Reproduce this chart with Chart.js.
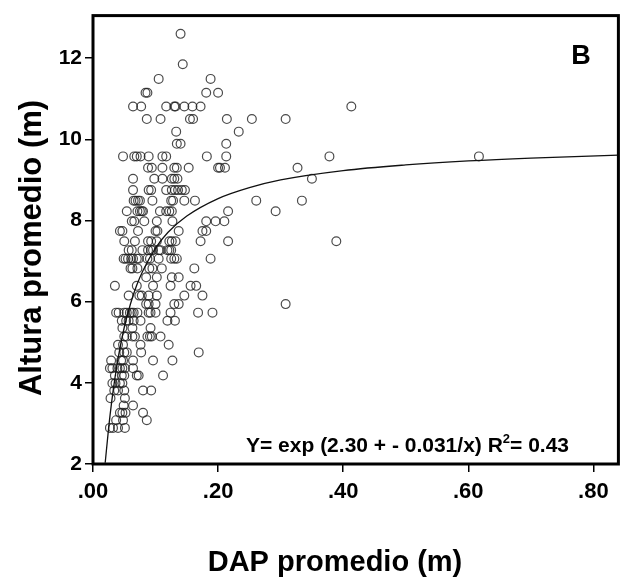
<!DOCTYPE html>
<html>
<head>
<meta charset="utf-8">
<script src="https://cdn.jsdelivr.net/npm/chart.js@4.4.0/dist/chart.umd.min.js"></script>
<style>
  html, body { margin: 0; padding: 0; background: #fff; }
  #wrap { width: 624px; height: 586px; }
</style>
</head>
<body>
<div id="wrap"><canvas id="c" width="624" height="586"></canvas></div>
<script>
// ---- data ----
const alturaLevels = [12.6, 11.85, 11.49, 11.15, 10.81, 10.5, 10.19, 9.89, 9.58, 9.30, 9.03, 8.75, 8.49, 8.23, 7.98, 7.74, 7.49, 7.27, 7.06, 6.82, 6.60, 6.39, 6.15, 5.94, 5.73, 5.53, 5.35, 5.14, 4.94, 4.75, 4.55, 4.36, 4.18, 3.99, 3.81, 3.62, 3.44, 3.26, 3.08, 2.89];
const dapAtLevel = [
  [0.140],
  [0.1435],
  [0.105, 0.188],
  [0.084, 0.087, 0.181, 0.200],
  [0.064, 0.077, 0.117, 0.130, 0.132, 0.146, 0.159, 0.172, 0.413],
  [0.086, 0.108, 0.155, 0.160, 0.214, 0.254, 0.308],
  [0.133, 0.233],
  [0.134, 0.140, 0.213],
  [0.048, 0.066, 0.070, 0.076, 0.089, 0.111, 0.117, 0.182, 0.213, 0.378, 0.617],
  [0.088, 0.094, 0.111, 0.130, 0.134, 0.153, 0.200, 0.203, 0.211, 0.327],
  [0.064, 0.098, 0.111, 0.126, 0.130, 0.135, 0.350],
  [0.064, 0.089, 0.093, 0.117, 0.126, 0.131, 0.136, 0.142, 0.147],
  [0.065, 0.068, 0.072, 0.075, 0.095, 0.125, 0.128, 0.146, 0.163, 0.261, 0.334],
  [0.054, 0.071, 0.075, 0.078, 0.080, 0.107, 0.117, 0.122, 0.126, 0.216, 0.292],
  [0.062, 0.066, 0.082, 0.102, 0.127, 0.181, 0.196, 0.210],
  [0.043, 0.047, 0.072, 0.100, 0.103, 0.137, 0.175, 0.181],
  [0.050, 0.067, 0.088, 0.093, 0.102, 0.122, 0.126, 0.132, 0.172, 0.216, 0.389],
  [0.057, 0.062, 0.079, 0.088, 0.093, 0.096, 0.105, 0.108, 0.119, 0.122, 0.125],
  [0.049, 0.052, 0.056, 0.061, 0.064, 0.070, 0.073, 0.087, 0.091, 0.105, 0.125, 0.130, 0.134, 0.188],
  [0.060, 0.063, 0.071, 0.090, 0.095, 0.110, 0.162],
  [0.085, 0.102, 0.126, 0.137],
  [0.035, 0.070, 0.096, 0.124, 0.156, 0.165],
  [0.057, 0.074, 0.078, 0.089, 0.102, 0.146, 0.175],
  [0.085, 0.089, 0.100, 0.130, 0.137, 0.308],
  [0.037, 0.041, 0.050, 0.054, 0.059, 0.062, 0.065, 0.071, 0.089, 0.092, 0.100, 0.124, 0.168, 0.191],
  [0.046, 0.053, 0.057, 0.065, 0.076, 0.119, 0.131],
  [0.047, 0.063, 0.092],
  [0.050, 0.054, 0.063, 0.067, 0.087, 0.091, 0.094, 0.108],
  [0.040, 0.048, 0.076, 0.121],
  [0.042, 0.050, 0.054, 0.077, 0.169],
  [0.029, 0.045, 0.048, 0.064, 0.096, 0.127],
  [0.027, 0.031, 0.039, 0.043, 0.047, 0.051, 0.064],
  [0.035, 0.046, 0.050, 0.070, 0.073, 0.112],
  [0.031, 0.036, 0.043, 0.047],
  [0.034, 0.040, 0.050, 0.080, 0.093],
  [0.028, 0.051],
  [0.049, 0.064],
  [0.043, 0.047, 0.052, 0.080],
  [0.037, 0.048, 0.086],
  [0.027, 0.032, 0.040, 0.051]
];
// fitted curve
const curveDap    = [0.0195, 0.025, 0.030, 0.035, 0.040, 0.050, 0.060, 0.070, 0.080, 0.100, 0.120, 0.150, 0.200, 0.250, 0.300, 0.400, 0.500, 0.600, 0.700, 0.840];
const curveAltura = [2.03, 2.89, 3.55, 4.11, 4.60, 5.37, 5.95, 6.41, 6.77, 7.32, 7.71, 8.11, 8.54, 8.81, 9.00, 9.23, 9.37, 9.47, 9.54, 9.61];
const xTickValues = [0, 0.2, 0.4, 0.6, 0.8];
const xTickLabels = ['.00', '.20', '.40', '.60', '.80'];
const yTickValues = [2, 4, 6, 8, 10, 12];
const yTickLabels = ['2', '4', '6', '8', '10', '12'];
const xTitle = 'DAP promedio (m)';
const yTitle = 'Altura promedio (m)';
const panelLabel = 'B';
const eqMain = 'Y= exp (2.30 + - 0.031/x) R';
const eqSup = '2';
const eqEnd = '= 0.43';

// ---- build ----
const points = [];
alturaLevels.forEach((h, i) => dapAtLevel[i].forEach(d => points.push({x: d, y: h})));
const curve = curveDap.map((d, i) => ({x: d, y: curveAltura[i]}));

const FONT = '"Liberation Sans", Arial, Helvetica, sans-serif';

const framePlugin = {
  id: 'frame',
  afterDraw(chart) {
    const {ctx, chartArea: a} = chart;
    ctx.save();
    ctx.lineWidth = 3;
    ctx.strokeStyle = '#000';
    ctx.strokeRect(a.left, a.top, a.right - a.left, a.bottom - a.top);

    ctx.fillStyle = '#000';
    // panel letter
    ctx.font = 'bold 27px ' + FONT;
    ctx.textAlign = 'center';
    ctx.textBaseline = 'middle';
    ctx.fillText(panelLabel, 581, 57);

    // equation
    ctx.font = 'bold 21px ' + FONT;
    ctx.textAlign = 'left';
    ctx.textBaseline = 'alphabetic';
    let x = 246, y = 452;
    ctx.fillText(eqMain, x, y);
    x += ctx.measureText(eqMain).width;
    ctx.font = 'bold 13px ' + FONT;
    ctx.fillText(eqSup, x, y - 9);
    x += ctx.measureText(eqSup).width;
    ctx.font = 'bold 21px ' + FONT;
    ctx.fillText(eqEnd, x, y);

    // axis titles
    ctx.textAlign = 'center';
    ctx.textBaseline = 'middle';
    ctx.font = 'bold 29px ' + FONT;
    ctx.fillText(xTitle, 335, 563);
    ctx.font = 'bold 31px ' + FONT;
    ctx.translate(32, 248);
    ctx.rotate(-Math.PI / 2);
    ctx.fillText(yTitle, 0, 0);
    ctx.restore();
  }
};

new Chart(document.getElementById('c'), {
  type: 'scatter',
  data: {
    datasets: [
      {
        type: 'line',
        data: curve,
        borderColor: '#111',
        borderWidth: 1.3,
        pointRadius: 0,
        fill: false,
        cubicInterpolationMode: 'monotone',
        order: 0
      },
      {
        data: points,
        pointRadius: 4.4,
        pointBorderWidth: 1.2,
        pointBorderColor: 'rgba(30,30,30,0.8)',
        pointBackgroundColor: 'rgba(0,0,0,0)',
        order: 1
      }
    ]
  },
  options: {
    responsive: false,
    animation: false,
    devicePixelRatio: 1,
    layout: { padding: { left: 0, right: 5, top: 11, bottom: 0 } },
    plugins: { legend: { display: false }, tooltip: { enabled: false } },
    scales: {
      x: {
        type: 'linear',
        min: 0,
        max: 0.84,
        afterFit: s => { s.height = 122; },
        afterBuildTicks: s => { s.ticks = xTickValues.map(v => ({value: v})); },
        border: { display: false },
        grid: { drawOnChartArea: false, drawTicks: true, tickLength: 8, color: '#000', lineWidth: 1.5 },
        ticks: {
          padding: 7,
          color: '#000',
          font: { family: FONT, size: 22, weight: 'bold' },
          maxRotation: 0,
          callback: (v) => { const i = xTickValues.findIndex(t => Math.abs(t - v) < 1e-9); return i >= 0 ? xTickLabels[i] : ''; }
        }
      },
      y: {
        type: 'linear',
        min: 2,
        max: 13.05,
        afterFit: s => { s.width = 93; },
        afterBuildTicks: s => { s.ticks = yTickValues.map(v => ({value: v})); },
        border: { display: false },
        grid: { drawOnChartArea: false, drawTicks: true, tickLength: 8, color: '#000', lineWidth: 1.5 },
        ticks: {
          padding: 3,
          color: '#000',
          font: { family: FONT, size: 21, weight: 'bold' },
          callback: (v) => { const i = yTickValues.indexOf(v); return i >= 0 ? yTickLabels[i] : ''; }
        }
      }
    }
  },
  plugins: [framePlugin]
});
</script>
</body>
</html>
